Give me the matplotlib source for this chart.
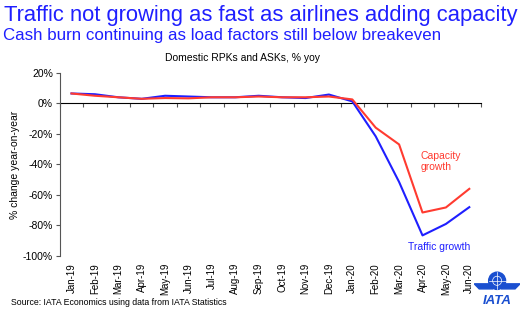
import numpy as np
import matplotlib.pyplot as plt
from matplotlib.patches import Circle, Polygon
from matplotlib.ticker import FuncFormatter

# === DATA ===
months = ["Jan-19", "Feb-19", "Mar-19", "Apr-19", "May-19", "Jun-19", "Jul-19", "Aug-19",
          "Sep-19", "Oct-19", "Nov-19", "Dec-19", "Jan-20", "Feb-20", "Mar-20", "Apr-20",
          "May-20", "Jun-20"]
traffic = [6.5, 6.0, 4.0, 3.0, 5.0, 4.5, 4.0, 4.0, 5.0, 4.0, 3.5, 5.8, 1.3,
           -21.6, -51.5, -86.5, -79.0, -68.0]
capacity = [6.5, 5.0, 4.0, 3.0, 3.5, 3.3, 4.0, 4.0, 4.5, 4.0, 4.0, 4.5, 2.6,
            -15.9, -26.9, -71.5, -68.2, -56.0]

BLUE = "#1f1fff"
RED = "#ff3b30"
LOGO = "#1a4fd0"

plt.rcParams['font.family'] = ['Liberation Sans', 'DejaVu Sans']

fig = plt.figure(figsize=(5.2, 3.21), dpi=100)
ax = fig.add_axes([0.115, 0.2025, 0.81, 0.5705])

x = np.arange(len(months))
ax.plot(x, traffic, color=BLUE, lw=1.5)
ax.plot(x, capacity, color=RED, lw=1.5)

ax.set_xlim(-0.5, len(months) - 0.5)
ax.set_ylim(-100, 20)
ax.set_yticks(np.arange(-100, 21, 20))
ax.yaxis.set_major_formatter(FuncFormatter(lambda v, p: f"{v:.0f}%"))
ax.tick_params(axis='y', labelsize=7.5, length=3, color="#555555", pad=2)
ax.set_ylabel("% change year-on-year", fontsize=7.5, labelpad=2)

# month labels at the bottom, no spine there
ax.set_xticks(x)
ax.set_xticklabels(months, rotation=90, fontsize=7)
ax.tick_params(axis='x', length=0, pad=5)
for s in ["top", "right", "bottom"]:
    ax.spines[s].set_visible(False)
ax.spines["left"].set_color("#555555")

# zero line with tick marks between months
zero = ax.secondary_xaxis(100 / 120)
zero.set_xticks(np.arange(-0.5, len(months), 1.0))
zero.tick_params(axis='x', direction='out', length=3, color="#555555")
zero.xaxis.set_ticks_position('bottom')
zero.set_xticklabels([])
zero.spines['bottom'].set_color("#555555")

# annotations
ax.text(14.93, -31, "Capacity\ngrowth", color=RED, fontsize=7.5, va="top", ha="left",
        linespacing=1.15)
ax.text(14.4, -94, "Traffic growth", color=BLUE, fontsize=7.5, va="center", ha="left")

# titles
fig.text(0.008, 0.985, "Traffic not growing as fast as airlines adding capacity",
         color=BLUE, fontsize=15.8, va="top", ha="left")
fig.text(0.006, 0.912, "Cash burn continuing as load factors still below breakeven",
         color=BLUE, fontsize=12.2, va="top", ha="left")
fig.text(0.467, 0.818, "Domestic RPKs and ASKs, % yoy", fontsize=7.5, va="center", ha="center")
fig.text(0.022, 0.057, "Source: IATA Economics using data from IATA Statistics", fontsize=6.3,
         va="center", ha="left")

# rough IATA logo
logo = fig.add_axes([0.912, 0.04, 0.088, 0.12])
logo.set_xlim(0, 46)
logo.set_ylim(0, 38)
logo.axis("off")
logo.add_patch(Polygon([[0, 24], [17, 24], [19, 19], [5, 19]], color=LOGO))
logo.add_patch(Polygon([[46, 24], [29, 24], [27, 19], [41, 19]], color=LOGO))
logo.add_patch(Circle((23, 27), 8.5, color=LOGO))
logo.plot([14.5, 31.5], [27, 27], color="white", lw=0.5)
logo.plot([23, 23], [18.5, 35.5], color="white", lw=0.5)
logo.add_patch(Circle((23, 27), 4.5, fill=False, ec="white", lw=0.5))
logo.text(23, 7, "IATA", color=LOGO, fontsize=9.5, fontweight="bold",
          style="italic", ha="center", va="center")

fig.savefig("out.png", dpi=100)
